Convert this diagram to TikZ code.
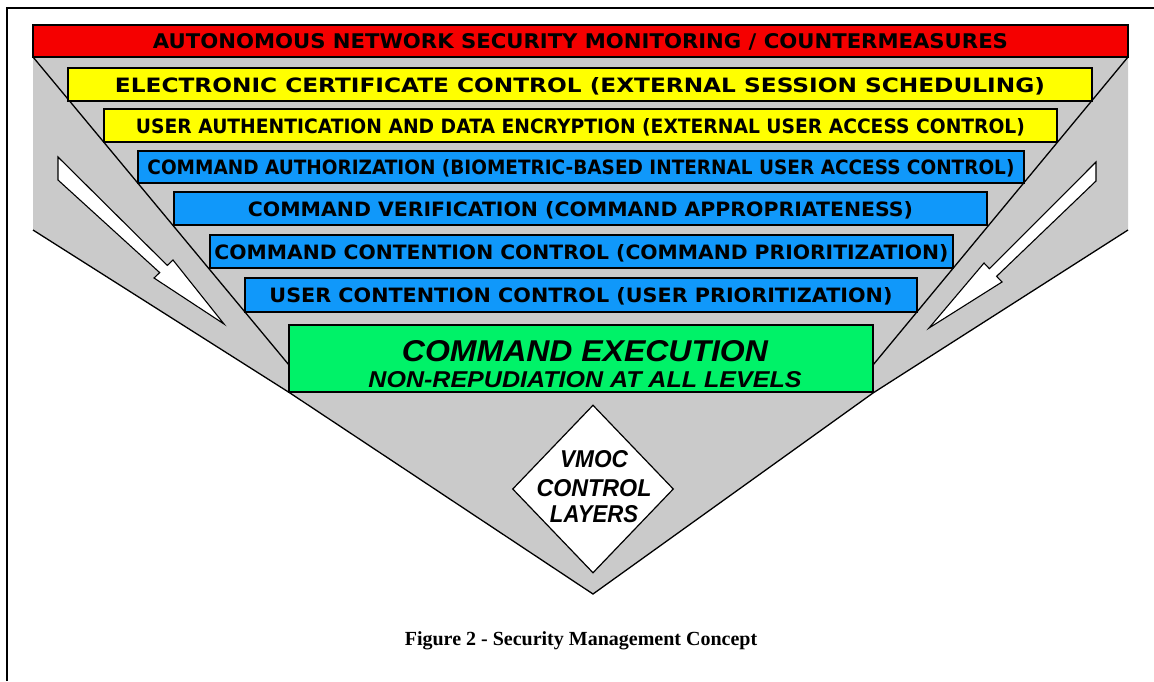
\documentclass[tikz,border=0pt]{standalone}
\usepackage{fontspec}
\usepackage{graphicx}
\setmainfont{Liberation Serif}
\newfontfamily\barfont{DejaVu Sans}
\newfontfamily\heavysans{Liberation Sans}
\usetikzlibrary{shapes.geometric}
\definecolor{panelgray}{RGB}{202,202,202}
\definecolor{barred}{RGB}{245,0,0}
\definecolor{baryellow}{RGB}{255,255,0}
\definecolor{barblue}{RGB}{16,152,250}
\definecolor{bargreen}{RGB}{0,242,104}
\newcommand{\barlbl}[2]{\resizebox{#1pt}{15pt}{\barfont\bfseries #2}}
\newcommand{\heavylbl}[3]{\resizebox{#1pt}{#2pt}{\heavysans\bfseries\itshape #3}}
\begin{document}
\begin{tikzpicture}[x=1pt,y=-1pt,
  bar/.style={draw=black, line width=1.2pt, inner sep=0pt, text height=15pt, text depth=0pt},
  edge/.style={draw=black, line width=1.3pt},
  hollow/.style={draw=black, fill=white, line width=1.1pt, line join=miter},
  lbl/.style={inner sep=0pt, anchor=base}]
\useasboundingbox (0,0) rectangle (1154,681);
\fill[white] (0,0) rectangle (1154,681);
% page frame
\coordinate (fb) at (7,681);
\coordinate (fc) at (7,8);
\coordinate (fr) at (1154,8);
\draw[line width=2pt] (fb) -- (fc) -- (fr);
% gray funnel
\coordinate (tl) at (33,57);
\coordinate (tr) at (1128,57);
\coordinate (ml) at (33,230);
\coordinate (mr) at (1128,230);
\coordinate (gl) at (290,393);
\coordinate (gr) at (873,393);
\coordinate (apex) at (593,594);
\coordinate (il) at (289,365);
\coordinate (ir) at (873,365);
\fill[panelgray] (tl) -- (tr) -- (mr) -- (gr) -- (apex) -- (gl) -- (ml) -- cycle;
\draw[edge] (ml) -- (gl) -- (apex) -- (gr) -- (mr);
\draw[edge] (tl) -- (il);
\draw[edge] (tr) -- (ir);
% left arrow
\coordinate (la1) at (58,157);
\coordinate (la2) at (167.3,265.4);
\coordinate (la3) at (173,260);
\coordinate (la4) at (224,324);
\coordinate (la5) at (154,278);
\coordinate (la6) at (159.7,272.6);
\coordinate (la7) at (58,180);
\draw[hollow] (la1) -- (la2) -- (la3) -- (la4) -- (la5) -- (la6) -- (la7) -- cycle;
% right arrow
\coordinate (ra1) at (1096,162);
\coordinate (ra2) at (989.4,268.7);
\coordinate (ra3) at (984,263);
\coordinate (ra4) at (929,328);
\coordinate (ra5) at (1002,282);
\coordinate (ra6) at (996.6,276.3);
\coordinate (ra7) at (1096,181);
\draw[hollow] (ra1) -- (ra2) -- (ra3) -- (ra4) -- (ra5) -- (ra6) -- (ra7) -- cycle;
% layers
\node[bar, fill=barred, minimum width=1095pt, minimum height=32pt] (l0) at (580.5,41)
  {\barlbl{855}{AUTONOMOUS NETWORK SECURITY MONITORING / COUNTERMEASURES}};
\node[bar, fill=baryellow, minimum width=1024pt, minimum height=33pt] (l1) at (580,84.5)
  {\barlbl{930}{ELECTRONIC CERTIFICATE CONTROL (EXTERNAL SESSION SCHEDULING)}};
\node[bar, fill=baryellow, minimum width=953pt, minimum height=33pt] (l2) at (580.5,125.5)
  {\barlbl{889}{USER AUTHENTICATION AND DATA ENCRYPTION (EXTERNAL USER ACCESS CONTROL)}};
\node[bar, fill=barblue, minimum width=886pt, minimum height=32pt] (l3) at (581,167)
  {\barlbl{867}{COMMAND AUTHORIZATION (BIOMETRIC-BASED INTERNAL USER ACCESS CONTROL)}};
\node[bar, fill=barblue, minimum width=813pt, minimum height=33pt] (l4) at (580.5,208.5)
  {\barlbl{665}{COMMAND VERIFICATION (COMMAND APPROPRIATENESS)}};
\node[bar, fill=barblue, minimum width=743pt, minimum height=33pt] (l5) at (581.5,251.5)
  {\barlbl{734}{COMMAND CONTENTION CONTROL (COMMAND PRIORITIZATION)}};
\node[bar, fill=barblue, minimum width=672pt, minimum height=34pt] (l6) at (581,295)
  {\barlbl{623}{USER CONTENTION CONTROL (USER PRIORITIZATION)}};
\node[bar, fill=bargreen, minimum width=584pt, minimum height=67pt] (l7) at (581,358.5) {};
\node[lbl] (ex1) at (585,361) {\heavylbl{366}{21}{COMMAND EXECUTION}};
\node[lbl] (ex2) at (585,387) {\heavylbl{433}{16}{NON-REPUDIATION AT ALL LEVELS}};
% diamond
\node[diamond, draw=black, fill=white, line width=1.2pt, inner sep=0pt,
  minimum width=161pt, minimum height=168pt] (dmd) at (593,489) {};
\node[lbl] (d1) at (594,467) {\heavylbl{68}{17}{VMOC}};
\node[lbl] (d2) at (594,496) {\heavylbl{115}{17}{CONTROL}};
\node[lbl] (d3) at (594,522) {\heavylbl{88}{17}{LAYERS}};
% caption
\node[lbl] (cap) at (581,645) {\fontsize{20}{24}\selectfont\bfseries Figure 2 - Security Management Concept};
\end{tikzpicture}
\end{document}
